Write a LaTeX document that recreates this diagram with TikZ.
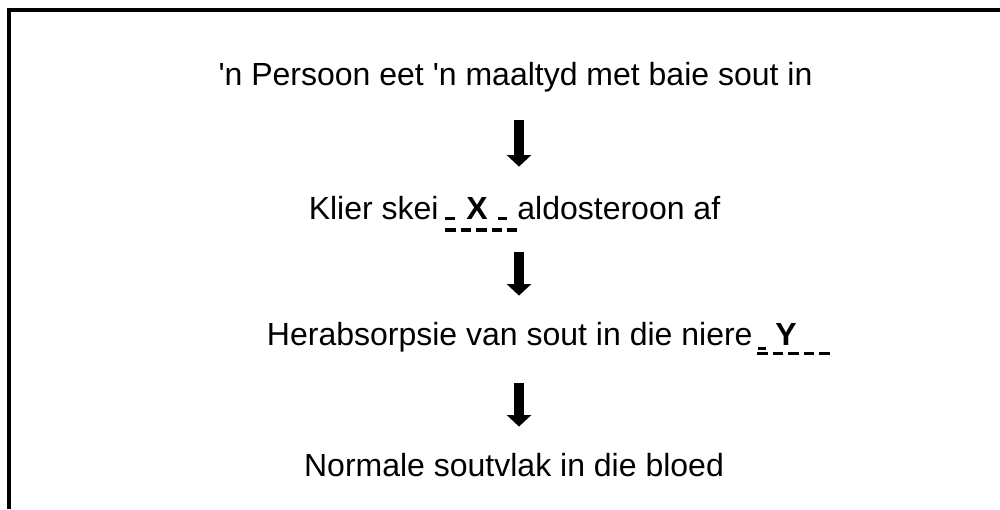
\documentclass[tikz,border=0pt]{standalone}
\usepackage{fontspec}
\setmainfont{Liberation Sans}
\usetikzlibrary{arrows.meta}
\tikzset{
    line/.style={font=\fontsize{16pt}{19pt}\selectfont, inner sep=0pt, text height=11.7pt, text depth=3.7pt, anchor=base},
    gap/.style={line, font=\fontsize{16pt}{19pt}\selectfont\bfseries},
    flow/.style={line width=4.8pt, -{Triangle[width=12pt, length=5.8pt]}, shorten <=14pt, shorten >=14pt},
    blank/.style={line width=1.8pt, dash pattern=on 5.25pt off 2.5pt},
    under/.style={line width=1.6pt},
    frame/.style={line width=2pt}
}
\begin{document}
\begin{tikzpicture}[x=0.5pt, y=-0.5pt]
    \useasboundingbox (0,0) rectangle (1000,509);
    \draw[frame] (1000,10) -- (9,10) -- (9,509);
    \coordinate (axis) at (519,0);

    \node[line] (meal) at (515.5,85) {\textquotesingle n Persoon eet \textquotesingle n maaltyd met baie sout in};

    \node[line, anchor=base east] (gland) at (439,219) {Klier skei};
    \node[gap] (gapx) at (477,219) {X};
    \node[line, anchor=base west] (hormone) at (517,219) {aldosteroon af};
    \draw[under] (445,218.5) -- (455,218.5) (498,218.5) -- (507,218.5);
    \draw[blank] (445,230) -- (517,230);

    \node[line, anchor=base east] (kidney) at (753,345) {Herabsorpsie van sout in die niere};
    \node[gap] (gapy) at (786,345) {Y};
    \draw[under] (758,348.5) -- (766,348.5);
    \draw[blank] (757,353.5) -- (830,353.5);

    \node[line] (level) at (514,476) {Normale soutvlak in die bloed};

    \draw[flow, shorten <=13.8pt, shorten >=14.3pt] (meal.south -| axis) -- (gapx.north -| axis);
    \draw[flow, shorten <=12.8pt, shorten >=12.8pt] (gapx.south -| axis) -- (kidney.north -| axis);
    \draw[flow, shorten <=15.3pt, shorten >=12.8pt] (kidney.south -| axis) -- (level.north -| axis);
\end{tikzpicture}
\end{document}
